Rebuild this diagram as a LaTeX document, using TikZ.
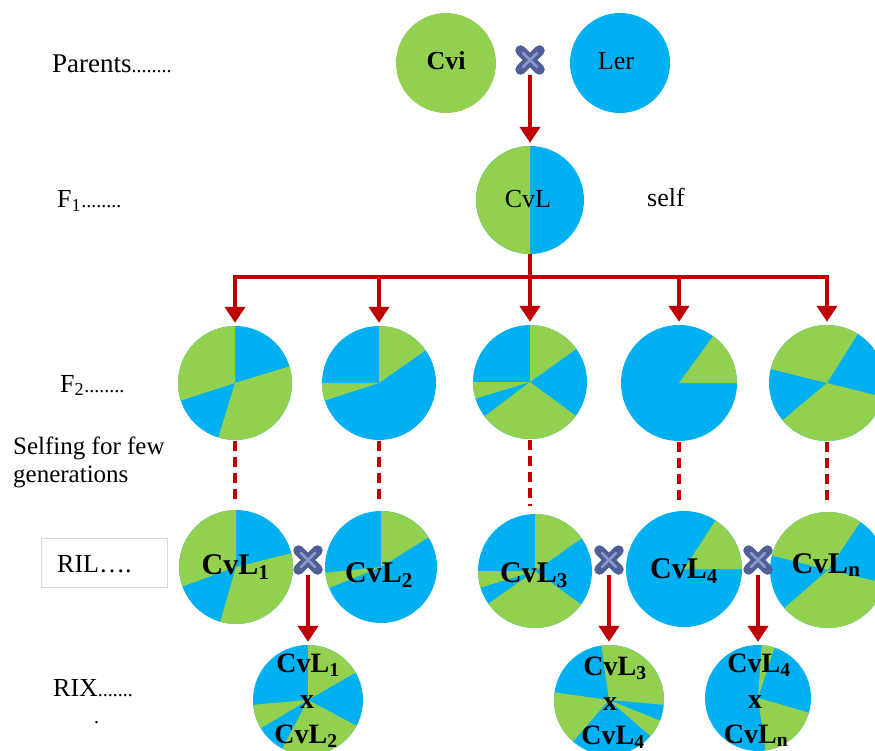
\documentclass[tikz,border=0pt]{standalone}
\usepackage{fontspec}
\setmainfont{Liberation Serif}
\usetikzlibrary{arrows.meta}
\definecolor{cgreen}{HTML}{92D050}
\definecolor{cblue}{HTML}{00B0F0}
\definecolor{cred}{HTML}{C00000}
\definecolor{xdark}{HTML}{4E5F96}
\definecolor{xlight}{HTML}{8A98CE}
\definecolor{boxgray}{HTML}{D9D9D9}
\newcommand{\fsz}[1]{\fontsize{#1}{#1}\selectfont}
\newcommand{\pieat}[4]{%
  \begin{scope}[shift={(#1,#2)}, y=1pt]
    \fill[cblue] (0,0) circle[radius=#3];
    \foreach \a/\b in {#4}{\fill[cgreen] (0,0) -- (\a:#3) arc[start angle=\a, end angle=\b, radius=#3] -- cycle;}
  \end{scope}}
\begin{document}
\begin{tikzpicture}[x=1pt,y=-1pt,
  arr/.style={draw=cred, line width=4.5pt, line join=miter, -{Triangle[length=16pt,width=20pt]}, shorten >=3pt},
  redln/.style={draw=cred, line width=4.5pt},
  dashln/.style={draw=cred, line width=3.5pt, dash pattern=on 10pt off 6pt},
  pienode/.style={circle, inner sep=0pt, minimum size=#1},
  lbl/.style={anchor=base west, inner sep=0pt},
  ctr/.style={anchor=base, inner sep=0pt},
  rilfont/.style={font={\fsz{30}\bfseries}},
  rixfont/.style={font={\fsz{28}\bfseries}},
  crossmark/.style={minimum size=30pt, inner sep=0pt, path picture={
    \draw[xdark, line width=10.5pt, line cap=round]
      ([shift={(-9.5pt,9.5pt)}]path picture bounding box.center) -- ([shift={(9.5pt,-9.5pt)}]path picture bounding box.center)
      ([shift={(-9.5pt,-9.5pt)}]path picture bounding box.center) -- ([shift={(9.5pt,9.5pt)}]path picture bounding box.center);
    \draw[xlight, line width=2.5pt, line cap=round]
      ([shift={(-7pt,7pt)}]path picture bounding box.center) -- ([shift={(7pt,-7pt)}]path picture bounding box.center)
      ([shift={(-7pt,-7pt)}]path picture bounding box.center) -- ([shift={(7pt,7pt)}]path picture bounding box.center);
  }}]
\useasboundingbox (0,0) rectangle (875,751);
\clip (0,0) rectangle (875,751);

% ---------- left labels ----------
\node[lbl, font={\fsz{27}}] (tparents) at (52,73) {Parents{\fsz{20}........}};
\node[lbl, font={\fsz{26}}] (tf1) at (57,208) {F\textsubscript{1}{\fsz{20}........}};
\node[lbl, font={\fsz{26}}] (tf2) at (60,392) {F\textsubscript{2}{\fsz{20}........}};
\node[lbl, font={\fsz{25}}] (tself1) at (13,454) {Selfing for few};
\node[lbl, font={\fsz{25}}] (tself2) at (13,482) {generations};
\node[draw=boxgray, line width=1pt, minimum width=126pt, minimum height=49pt, inner sep=0pt] (rilbox) at (104,562.5) {};
\node[lbl, font={\fsz{26}}] (tril) at (57,572) {RIL….};
\node[lbl, font={\fsz{26}}] (trix) at (53,696) {RIX{\fsz{20}.......}};
\node[lbl, font={\fsz{20}}] (trixdot) at (94,723) {.};

% ---------- parents ----------
\node[circle, fill=cgreen, minimum size=100pt, inner sep=0pt] (cvi) at (446,63) {};
\node[circle, fill=cblue, minimum size=100pt, inner sep=0pt] (ler) at (620,63) {};
\node[ctr, font={\fsz{26}\bfseries}] (tcvi) at (446,70) {Cvi};
\node[ctr, font={\fsz{26}}] (tler) at (616,70) {Ler};
\node[crossmark] (x0) at (530,60) {};

% ---------- F1 ----------
\pieat{530}{200}{54}{90/270}
\node[pienode=108pt] (f1) at (530,200) {};
\node[ctr, font={\fsz{26}}] (tcvl) at (528,208) {CvL};
\node[ctr, font={\fsz{26}}] (tselfing) at (666,207) {self};
\draw[arr] (x0) -- (f1);

% ---------- F2 ----------
\pieat{235}{383}{57}{90/198,253/377}
\pieat{379}{383}{57}{35/90,180/198}
\pieat{530}{382}{57}{35.5/90,180/197,217/323.6}
\pieat{679}{383}{58}{0/54}
\pieat{827}{383}{58}{58/166,220/346}
\node[pienode=114pt] (p1) at (235,383) {};
\node[pienode=114pt] (p2) at (379,383) {};
\node[pienode=114pt] (p3) at (530,382) {};
\node[pienode=116pt] (p4) at (679,383) {};
\node[pienode=116pt] (p5) at (827,383) {};

\coordinate (b1) at (235,277);
\coordinate (b2) at (379,277);
\coordinate (b4) at (679,277);
\coordinate (b5) at (827,277);
\draw[arr] (b2) -- (b1) -- (p1);
\draw[arr] (b4) -- (b5) -- (p5);
\draw[redln] (b2) -- (b4);
\draw[arr] (b2) -- (p2);
\draw[arr] (b4) -- (p4);
\draw[arr] (f1) -- (p3);

% ---------- RIL ----------
\pieat{236}{567}{57}{90/200,254/374}
\pieat{381}{567}{56}{32/90,186/202}
\pieat{535}{571}{57}{35/90,180/197,215/324}
\pieat{684}{569}{58}{0/57}
\pieat{828}{570}{58}{56/165.5,221/347}
\node[pienode=114pt] (r1) at (236,567) {};
\node[pienode=112pt] (r2) at (381,567) {};
\node[pienode=114pt] (r3) at (535,571) {};
\node[pienode=116pt] (r4) at (684,569) {};
\node[pienode=116pt] (r5) at (828,570) {};
\node[ctr, rilfont] (tr1) at (235.5,574) {CvL\textsubscript{1}};
\node[ctr, rilfont] (tr2) at (379,582) {CvL\textsubscript{2}};
\node[ctr, rilfont] (tr3) at (534,582) {CvL\textsubscript{3}};
\node[ctr, rilfont] (tr4) at (684,578) {CvL\textsubscript{4}};
\node[ctr, rilfont] (tr5) at (826,573) {CvL\textsubscript{n}};

\draw[dashln] ([yshift=-1pt]p1.south) -- ([yshift=8pt]p1.south |- r1.north);
\draw[dashln] ([yshift=-1pt]p2.south) -- ([yshift=8pt]p2.south |- r2.north);
\draw[dashln] ([yshift=-1pt]p3.south) -- ([yshift=8pt]p3.south |- r3.north);
\draw[dashln] ([yshift=-1pt]p4.south) -- ([yshift=8pt]p4.south |- r4.north);
\draw[dashln] ([yshift=-1pt]p5.south) -- ([yshift=8pt]p5.south |- r5.north);

\node[crossmark] (x1) at (308,560) {};
\node[crossmark] (x2) at (609,560) {};
\node[crossmark] (x3) at (758,560) {};

% ---------- RIX ----------
\pieat{308}{700}{55}{30/90,185/211,242/332}
\pieat{609}{700}{55}{-5/98,172/229,319/338}
\pieat{758}{698}{53}{72/86,278/344}
\node[pienode=110pt] (ix1) at (308,700) {};
\node[pienode=110pt] (ix2) at (609,700) {};
\node[pienode=106pt] (ix3) at (758,698) {};
\draw[arr] (x1) -- (ix1);
\draw[arr] (x2) -- (ix2);
\draw[arr] (x3) -- (ix3);

\node[ctr, rixfont] (ta1) at (308,672) {CvL\textsubscript{1}};
\node[ctr, rixfont] (tb1) at (307,708) {x};
\node[ctr, rixfont] (tc1) at (306,743) {CvL\textsubscript{2}};
\node[ctr, rixfont] (ta2) at (615,675) {CvL\textsubscript{3}};
\node[ctr, rixfont] (tb2) at (610,710) {x};
\node[ctr, rixfont] (tc2) at (613,744) {CvL\textsubscript{4}};
\node[ctr, rixfont] (ta3) at (759,672) {CvL\textsubscript{4}};
\node[ctr, rixfont] (tb3) at (755,708) {x};
\node[ctr, rixfont] (tc3) at (756,743) {CvL\textsubscript{n}};
\end{tikzpicture}
\end{document}
